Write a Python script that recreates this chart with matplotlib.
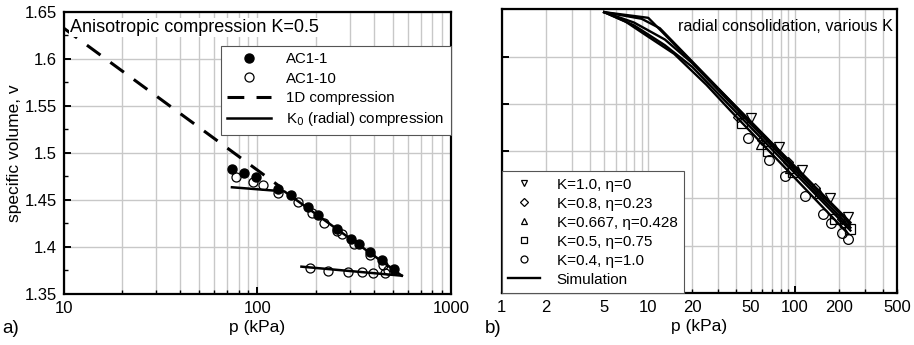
import matplotlib
matplotlib.use("Agg")
import matplotlib.pyplot as plt
from matplotlib.ticker import LogLocator, FuncFormatter, NullFormatter, MultipleLocator
from matplotlib.lines import Line2D

plt.rcParams["font.family"] = ["Liberation Sans", "DejaVu Sans"]
plt.rcParams["font.size"] = 11

# ---------------------------------------------------------------------------
# Data: a) anisotropic compression K=0.5
# ---------------------------------------------------------------------------
ac11_p = [74, 85, 98.5, 128.5, 149, 182, 205, 257, 305, 334, 382, 439, 509]
ac11_v = [1.4825, 1.4789, 1.4747, 1.4616, 1.4552, 1.4428, 1.4340, 1.4194,
          1.4088, 1.4035, 1.3946, 1.3858, 1.3762]

ac110_p = [78, 95.5, 106.5, 128.5, 162, 191, 222, 257, 273, 317, 382, 447, 474,
           187, 233, 295, 346, 397, 456]
ac110_v = [1.4747, 1.4693, 1.4658, 1.4577, 1.4474, 1.4357, 1.4258, 1.4170,
           1.4134, 1.4028, 1.3914, 1.3808, 1.3755,
           1.3773, 1.3748, 1.3737, 1.3731, 1.3726, 1.3726]

oned_p = [10, 131]
oned_v = [1.6327, 1.464]

k0_load_p = [74, 138, 557]
k0_load_v = [1.4634, 1.4590, 1.3694]
k0_unload_p = [169, 557]
k0_unload_v = [1.3790, 1.3694]

# ---------------------------------------------------------------------------
# Data: b) radial consolidation, various K
# ---------------------------------------------------------------------------
sim_k10_p = [5, 10, 240]
sim_k10_v = [1.647, 1.641, 1.4245]
sim_k08_p = [5, 9, 12, 240]
sim_k08_v = [1.647, 1.640, 1.630, 1.4225]
sim_k067_p = [5, 8, 13, 20, 240]
sim_k067_v = [1.647, 1.636, 1.618, 1.593, 1.419]
sim_k05_p = [5, 8, 13, 20, 240]
sim_k05_v = [1.647, 1.633, 1.612, 1.589, 1.416]
sim_k04_p = [5, 7, 10, 15, 25, 36, 232]
sim_k04_v = [1.647, 1.637, 1.621, 1.603, 1.570, 1.5436, 1.4125]

k10_p = [50, 78, 112, 174, 230]
k10_v = [1.535, 1.504, 1.480, 1.450, 1.430]
k08_p = [41, 60, 90, 137, 210]
k08_v = [1.536, 1.512, 1.488, 1.461, 1.428]
k067_p = [59, 93, 147, 222]
k067_v = [1.508, 1.482, 1.456, 1.425]
k05_p = [44, 66, 98, 188, 238]
k05_v = [1.530, 1.500, 1.478, 1.428, 1.418]
k04_p = [48, 67, 86, 117, 155, 177, 209, 232]
k04_v = [1.5135, 1.4904, 1.4734, 1.4525, 1.4330, 1.4241, 1.4131, 1.4071]

GRID = "#c8c8c8"
TICK_FS = 12
LABEL_FS = 12.5


def style_axes(ax):
    ax.set_xscale("log")
    ax.set_ylim(1.35, 1.65)
    ax.yaxis.set_major_locator(MultipleLocator(0.05))
    ax.grid(which="major", color=GRID, lw=1)
    ax.grid(which="minor", axis="x", color=GRID, lw=1)
    ax.set_axisbelow(True)
    for s in ax.spines.values():
        s.set_linewidth(1.6)
    ax.tick_params(which="major", direction="in", length=5, width=1.4,
                   top=False, right=False, labelsize=TICK_FS, pad=5)
    ax.tick_params(which="minor", direction="in", length=3.2, width=1,
                   top=False, right=False, labelsize=TICK_FS, pad=5)


fig = plt.figure(figsize=(9.14, 3.45), dpi=100)
ax1 = fig.add_axes([0.0695, 0.148, 0.424, 0.818])
ax2 = fig.add_axes([0.549, 0.151, 0.4325, 0.822])

# ---- panel a ----
style_axes(ax1)
ax1.set_xlim(10, 1000)
ax1.xaxis.set_major_locator(LogLocator(base=10))
ax1.xaxis.set_minor_locator(LogLocator(base=10, subs=range(2, 10)))
ax1.xaxis.set_major_formatter(FuncFormatter(lambda v, _: f"{v:g}"))
ax1.xaxis.set_minor_formatter(NullFormatter())
ax1.yaxis.set_minor_locator(MultipleLocator(0.025))
ax1.yaxis.set_major_formatter(FuncFormatter(lambda v, _: f"{v:g}"))

ax1.plot(oned_p, oned_v, color="black", lw=2.2, ls=(0, (5.5, 4)))
ax1.plot(k0_load_p, k0_load_v, color="black", lw=1.8)
ax1.plot(k0_unload_p, k0_unload_v, color="black", lw=1.8)
ax1.plot(ac11_p, ac11_v, "o", ms=6.5, color="black")
ax1.plot(ac110_p, ac110_v, "o", ms=6.5, mfc="none", mec="black", mew=0.9)

ax1.text(0.016, 0.975, "Anisotropic compression K=0.5", transform=ax1.transAxes,
         ha="left", va="top", fontsize=13,
         bbox=dict(facecolor="white", edgecolor="none", pad=0.5))

h1 = [Line2D([], [], marker="o", ls="none", ms=6.5, color="black"),
      Line2D([], [], marker="o", ls="none", ms=6.5, mfc="none", mec="black", mew=0.9),
      Line2D([], [], color="black", lw=2.2, ls=(0, (5.5, 4))),
      Line2D([], [], color="black", lw=1.8)]
l1 = ["AC1-1", "AC1-10", "1D compression", "K$_0$ (radial) compression"]
leg1 = ax1.legend(h1, l1, loc="upper right", bbox_to_anchor=(1.0, 0.88),
                  borderaxespad=0, fancybox=False, framealpha=1,
                  edgecolor="#555555", handlelength=2.9, handletextpad=1.0,
                  labelspacing=0.35, borderpad=0.45, fontsize=10.8)
leg1.get_frame().set_linewidth(0.8)

ax1.set_xlabel("p (kPa)", fontsize=LABEL_FS, labelpad=3)
ax1.set_ylabel("specific volume, v", fontsize=LABEL_FS, labelpad=2)

# ---- panel b ----
style_axes(ax2)
ax2.set_xlim(1, 500)
ax2.xaxis.set_major_locator(LogLocator(base=10))
ax2.xaxis.set_minor_locator(LogLocator(base=10, subs=range(2, 10)))
ax2.xaxis.set_major_formatter(FuncFormatter(lambda v, _: f"{v:g}"))


def minor_fmt(v, _):
    lead = round(v / 10 ** int(f"{v:e}".split("e")[1]))
    return f"{v:g}" if lead in (2, 5) else ""


ax2.xaxis.set_minor_formatter(FuncFormatter(minor_fmt))
ax2.yaxis.set_major_formatter(NullFormatter())

for p, v in [(sim_k10_p, sim_k10_v), (sim_k08_p, sim_k08_v),
             (sim_k067_p, sim_k067_v), (sim_k05_p, sim_k05_v),
             (sim_k04_p, sim_k04_v)]:
    ax2.plot(p, v, color="black", lw=1.7)

mk = dict(ls="none", mfc="none", mec="black", mew=0.9)
ax2.plot(k10_p, k10_v, marker="v", ms=7, **mk)
ax2.plot(k08_p, k08_v, marker="D", ms=5.5, **mk)
ax2.plot(k067_p, k067_v, marker="^", ms=6.5, **mk)
ax2.plot(k05_p, k05_v, marker="s", ms=6.5, **mk)
ax2.plot(k04_p, k04_v, marker="o", ms=7, **mk)

ax2.text(0.99, 0.965, "radial consolidation, various K", transform=ax2.transAxes,
         ha="right", va="top", fontsize=11.6)

h2 = [Line2D([], [], marker="v", ms=5, **mk),
      Line2D([], [], marker="D", ms=4, **mk),
      Line2D([], [], marker="^", ms=4, **mk),
      Line2D([], [], marker="s", ms=5, **mk),
      Line2D([], [], marker="o", ms=5, **mk),
      Line2D([], [], color="black", lw=1.7)]
l2 = ["K=1.0, η=0", "K=0.8, η=0.23", "K=0.667, η=0.428",
      "K=0.5, η=0.75", "K=0.4, η=1.0", "Simulation"]
leg2 = ax2.legend(h2, l2, loc="lower left", borderaxespad=0, fancybox=False,
                  framealpha=1, edgecolor="#555555", handlelength=2.1,
                  handletextpad=1.1, labelspacing=0.33, borderpad=0.4,
                  fontsize=11)
leg2.get_frame().set_linewidth(0.8)
leg2.set_zorder(5)

ax2.set_xlabel("p (kPa)", fontsize=LABEL_FS, labelpad=3)

fig.text(0.002, 0.022, "a)", fontsize=13.5, ha="left", va="bottom")
fig.text(0.530, 0.022, "b)", fontsize=13.5, ha="left", va="bottom")

fig.savefig("out.png", dpi=100)
